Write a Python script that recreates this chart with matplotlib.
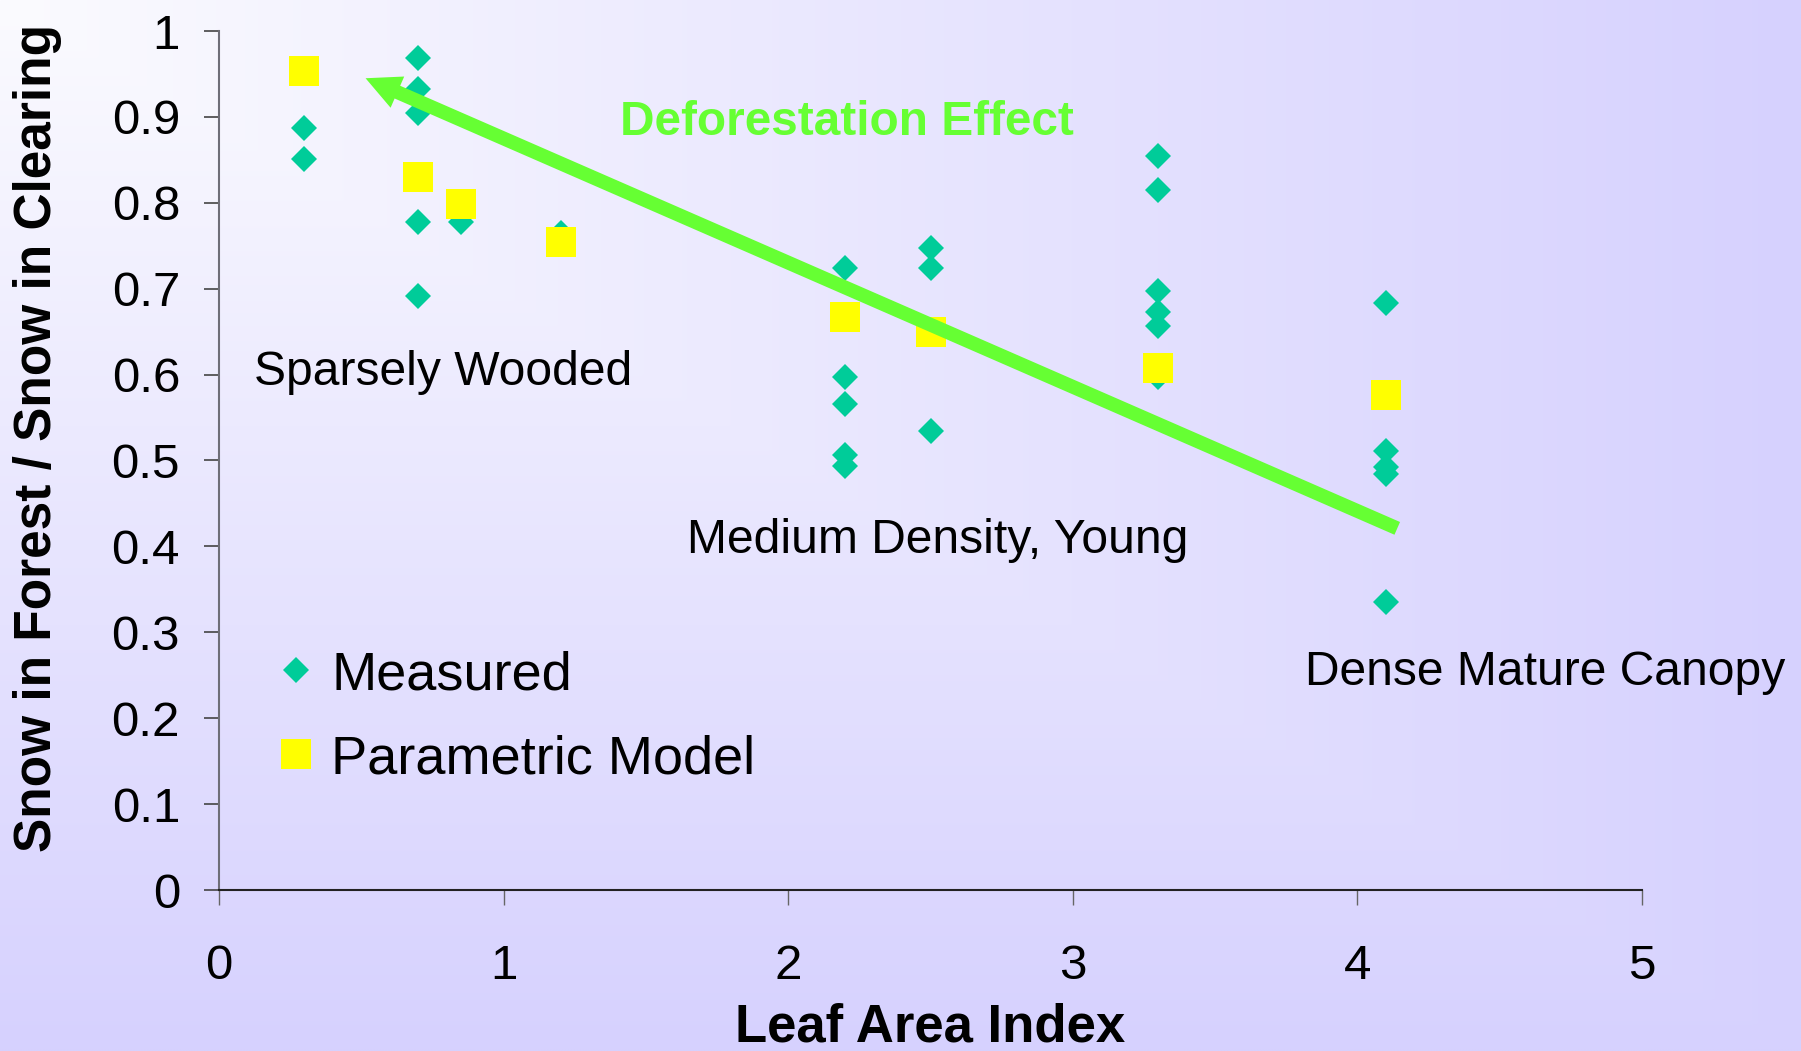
import numpy as np
import matplotlib
matplotlib.use("Agg")
import matplotlib.pyplot as plt
from matplotlib.ticker import FormatStrFormatter, MultipleLocator

## Global text settings
plt.rcParams["font.family"] = ["Liberation Sans", "DejaVu Sans"]

## Measured snow ratio (forest / clearing) by leaf area index
measured_lai = [0.3, 0.3,
                0.7, 0.7, 0.7, 0.7, 0.7,
                0.85, 1.2,
                2.2, 2.2, 2.2, 2.2, 2.2,
                2.5, 2.5, 2.5,
                3.3, 3.3, 3.3, 3.3, 3.3, 3.3,
                4.1, 4.1, 4.1, 4.1, 4.1]
measured_ratio = [0.887, 0.851,
                  0.969, 0.932, 0.905, 0.778, 0.692,
                  0.778, 0.765,
                  0.724, 0.597, 0.566, 0.506, 0.494,
                  0.747, 0.724, 0.534,
                  0.855, 0.815, 0.697, 0.673, 0.656, 0.597,
                  0.683, 0.511, 0.493, 0.484, 0.335]

## Parametric model at the same sites
model_lai = [0.3, 0.7, 0.85, 1.2, 2.2, 2.5, 3.3, 4.1]
model_ratio = [0.953, 0.830, 0.799, 0.754, 0.667, 0.650, 0.608, 0.576]

## Trend arrow (from dense canopy back to open ground)
arrow_tail = (4.14, 0.421)
arrow_head = (0.515, 0.945)

## Site descriptions: (text, x, y)
site_labels = [("Sparsely Wooded", 0.123, 0.603),
               ("Medium Density, Young", 1.644, 0.407),
               ("Dense Mature Canopy", 3.816, 0.253)]

x_ticks = [0, 1, 2, 3, 4, 5]

W, H = 1801, 1051
fig = plt.figure(figsize=(W / 100, H / 100), dpi=100)

## Background: rectangular gradient from the top-left corner
bg = fig.add_axes([0, 0, 1, 1], zorder=-10)
gx, gy = np.meshgrid(np.linspace(0, 1, 600), np.linspace(0, 1, 350))
t = np.maximum(gx, gy)
c0 = np.array([251, 251, 255]) / 255.0
c1 = np.array([214, 209, 254]) / 255.0
grad = c0[None, None, :] * (1 - t[..., None]) + c1[None, None, :] * t[..., None]
bg.imshow(grad, aspect="auto", extent=[0, 1, 0, 1], interpolation="bilinear")
bg.axis("off")

ax = fig.add_axes([219 / W, 1 - 890 / H, (1642 - 219) / W, (890 - 31) / H])
ax.set_facecolor("none")

ax.plot(measured_lai, measured_ratio, linestyle="None", marker="D",
        markersize=13.7, markeredgewidth=0, color="#00cc99",
        label="Measured", zorder=3)
ax.plot(model_lai, model_ratio, linestyle="None", marker="s",
        markersize=22, markeredgewidth=0, color="#ffff00",
        label="Parametric Model", zorder=4)

ax.annotate("", xy=arrow_head, xytext=arrow_tail,
            arrowprops=dict(arrowstyle="simple,head_length=25,head_width=24.5,tail_width=10",
                            mutation_scale=1, color="#66ff33", lw=0,
                            shrinkA=0, shrinkB=0), zorder=5)
ax.text(2.208, 0.894, "Deforestation Effect", color="#66ff33", fontsize=34.4,
        fontweight="bold", ha="center", va="center", zorder=6)

for txt, lx, ly in site_labels:
    ax.text(lx, ly, txt, fontsize=34.6, ha="left", va="center", zorder=6)

ax.set_xlim(0, 5)
ax.set_ylim(0, 1)
ax.set_xticks(x_ticks)
ax.yaxis.set_major_locator(MultipleLocator(0.1))
ax.yaxis.set_major_formatter(FormatStrFormatter("%g"))

for s in ["top", "right"]:
    ax.spines[s].set_visible(False)
ax.spines["left"].set_color("#6e6e78")
ax.spines["left"].set_linewidth(1.5)
ax.spines["bottom"].set_color("#222222")
ax.spines["bottom"].set_linewidth(1.5)

ax.tick_params(axis="y", direction="out", length=11, width=1.2, color="#444444",
               pad=17, labelsize=35.5)
ax.tick_params(axis="x", direction="out", length=11, width=1.0, color="#666666",
               pad=28, labelsize=35.5)

fig.text(38 / W, 1 - 438 / H, "Snow in Forest / Snow in Clearing", rotation=90,
         fontsize=37, fontweight="bold", ha="center", va="center")
fig.text(930 / W, 1 - 1027 / H, "Leaf Area Index", fontsize=38,
         fontweight="bold", ha="center", va="center")

ax.legend(loc="upper left", bbox_to_anchor=(282.5 / W, 1 - 650 / H),
          bbox_transform=fig.transFigure, frameon=False, fontsize=39,
          borderpad=0, borderaxespad=0, handlelength=0.5, handletextpad=0.40,
          labelspacing=0.63, numpoints=1)

plt.savefig("out.png", dpi=100)
